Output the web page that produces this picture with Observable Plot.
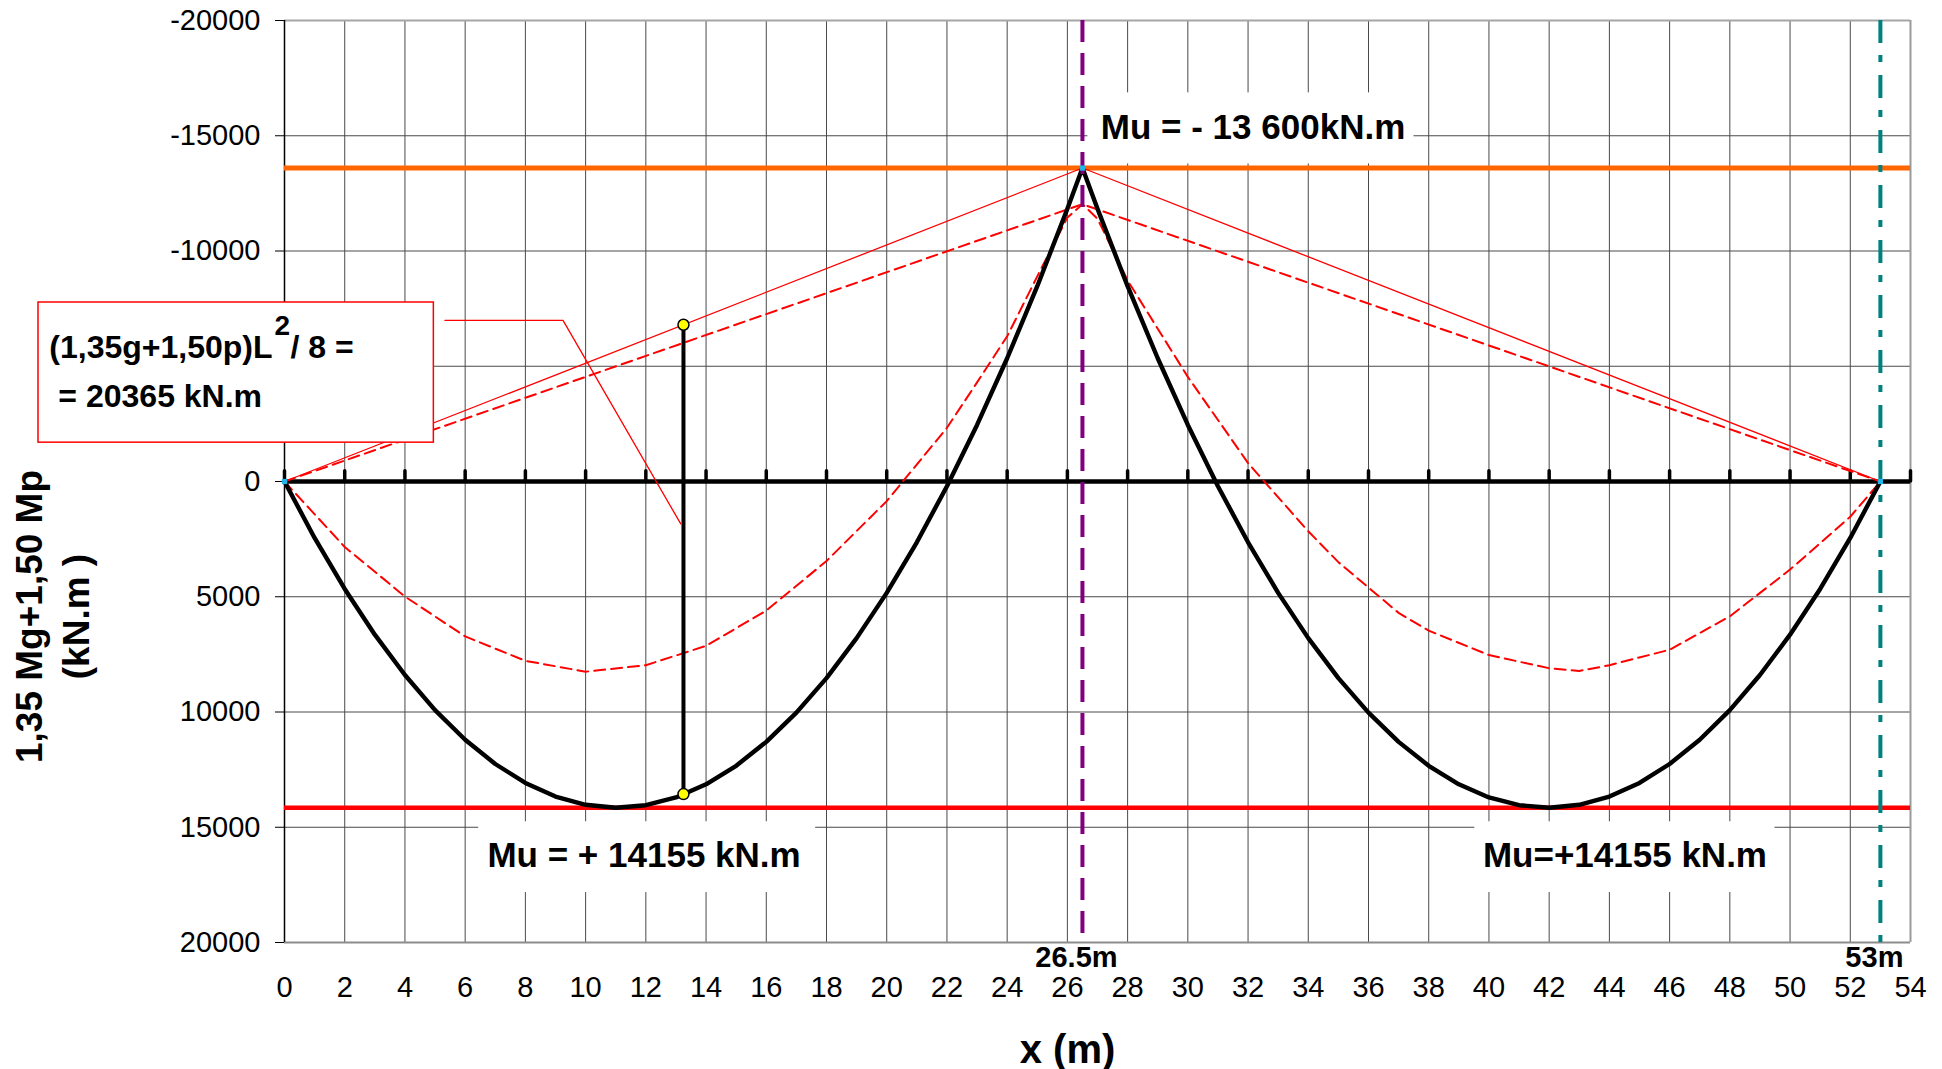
<!DOCTYPE html>
<html>
<head>
<meta charset="utf-8">
<script src="https://cdn.jsdelivr.net/npm/d3@7"></script>
<script src="https://cdn.jsdelivr.net/npm/@observablehq/plot@0.6"></script>
<style>
html, body { margin: 0; padding: 0; background: #fff; overflow: hidden; }
#chart svg { display: block; }
</style>
</head>
<body>
<div id="chart"></div>
<script>
// ---------- data ----------
const xTicks = [0,2,4,6,8,10,12,14,16,18,20,22,24,26,28,30,32,34,36,38,40,42,44,46,48,50,52,54];
const yTicks = [-20000,-15000,-10000,-5000,0,5000,10000,15000,20000];
// the -5000 label is hidden behind the formula box in the reference
const yLabelTicks = [-20000,-15000,-10000,0,5000,10000,15000,20000];

// design moment 1,35 Mg + 1,50 Mp (black curve), kN.m (sagging positive, drawn downward)
const envX = [0,1,2,3,4,5,6,7,8,9,10,11,12,13,14,15,16,17,18,19,20,21,22,23,24,25,26,26.5,
              27,28,29,30,31,32,33,34,35,36,37,38,39,40,41,42,43,44,45,46,47,48,49,50,51,52,53];
const envM = [0,2448,4663,6646,8397,9916,11202,12256,13078,13668,14026,14155,14045,13706,13135,12332,11296,10028,8528,6796,4832,2636,207,-2454,-5347,-8473,-11830,-13600,
              -11830,-8473,-5347,-2454,207,2636,4832,6796,8528,10028,11296,12332,13135,13706,14045,14155,14026,13668,13078,12256,11202,9916,8397,6646,4663,2448,0];

// second (dashed red) moment curve
const altX = [0,2,4,6,8,10,12,14,16,18,20,22,23,24,25,26,26.5,
              27,28,29,30,31,32,34,35,36,37,38,40,42,43,44,46,48,50,52,53];
const altM = [0,2840,4990,6720,7780,8250,7970,7130,5600,3450,850,-2330,-4300,-6300,-8900,-11450,-12030,
              -11400,-8720,-6630,-4540,-2670,-800,2160,3500,4600,5700,6470,7530,8100,8220,7970,7300,5850,3820,1530,0];

// closing lines from supports to the middle support moment
const closeX = [0, 26.5, 53];
const closeSolidM = [0, -13600, 0];
const closeDashM = [0, -12030, 0];

const supportMoment = -13600;   // Mu over middle support
const spanMoment = 14155;       // Mu in span
const supportsX = [0, 26.5, 53];
const supportsM = [0, -13600, 0];

// wL²/8 ordinate at mid-span
const midX = 13.25;
const midM = [-6800, 13560];

// annotation labels
const muText = ["Mu = - 13 600kN.m", "Mu = + 14155 kN.m", "Mu=+14155 kN.m"];
const muX = [27.11, 6.74, 39.8];
const muY = [-15363, 16254, 16254];
const muBoxX1 = [26.68, 6.45, 39.53];
const muBoxX2 = [37.51, 17.64, 49.5];
const muBoxY1 = [-16860, 14762, 14762];
const muBoxY2 = [-13777, 17833, 17833];

const spanText = ["26.5m", "53m"];
const spanTextX = [26.5, 53];

// formula box (x in m, y in kN.m)
const boxX = [-8.17, 4.96];
const boxY = [-7766, -1685];
const formulaParts = ["(1,35g+1,50p)L", "2", "/ 8 =", "= 20365 kN.m"];
const formulaX = [-7.81, -0.33, 0.2, -7.51];
const formulaY = [-5787, -6750, -5787, -3664];
const formulaSize = [32, 28, 32, 32];
const leaderX = [5.33, 9.25, 13.16];
const leaderM = [-6988, -6988, 1841];

// ---------- build ----------
const font = "'Liberation Sans', Arial, Helvetica, sans-serif";
const env = envX.map((x, i) => ({x, y: envM[i]}));
const alt = altX.map((x, i) => ({x, y: altM[i]}));
const closeSolid = closeX.map((x, i) => ({x, y: closeSolidM[i]}));
const closeDash = closeX.map((x, i) => ({x, y: closeDashM[i]}));
const supports = supportsX.map((x, i) => ({x, y: supportsM[i]}));
const mids = midM.map(y => ({x: midX, y}));
const mu = muText.map((t, i) => ({t, x: muX[i], y: muY[i], x1: muBoxX1[i], x2: muBoxX2[i], y1: muBoxY1[i], y2: muBoxY2[i]}));
const spans = spanText.map((t, i) => ({t, x: spanTextX[i]}));
const formula = formulaParts.map((t, i) => ({t, x: formulaX[i], y: formulaY[i], s: formulaSize[i]}));
const leader = leaderX.map((x, i) => ({x, y: leaderM[i]}));

const chart = Plot.plot({
  width: 1942,
  height: 1069,
  marginLeft: 284,
  marginRight: 32,
  marginTop: 20,
  marginBottom: 127,
  style: {fontFamily: font, fontSize: "29px", background: "#fff", color: "#000", overflow: "visible"},
  x: {domain: [0, 54], axis: null},
  y: {domain: [-20000, 20000], reverse: true, axis: null},
  marks: [
    // grid
    Plot.ruleX(xTicks, {stroke: "#4a4a4a", strokeWidth: 1}),
    Plot.ruleY(yTicks.slice(1, -1), {stroke: "#4a4a4a", strokeWidth: 1}),
    // frame
    Plot.ruleY([-20000], {stroke: "#a6a6a6", strokeWidth: 2}),
    Plot.ruleY([20000], {stroke: "#8c8c8c", strokeWidth: 2}),
    Plot.ruleX([54], {stroke: "#9a9a9a", strokeWidth: 2}),
    Plot.ruleX([0], {stroke: "#000", strokeWidth: 1.5}),
    // axes
    Plot.axisY({ticks: yLabelTicks, tickFormat: d => String(d), tickSize: 9, tickPadding: 15, fontSize: 29, label: null}),
    Plot.axisX({ticks: xTicks, tickFormat: d => String(d), tickSize: 0, tickPadding: 34, fontSize: 29, label: null}),
    // white backgrounds of Mu labels
    Plot.rect(mu, {x1: "x1", x2: "x2", y1: "y1", y2: "y2", fill: "#fff"}),
    // zero axis with ticks
    Plot.ruleY([0], {x1: 0, x2: 54, stroke: "#000", strokeWidth: 4.5}),
    Plot.ruleX(xTicks, {y1: 0, y2: -450, stroke: "#000", strokeWidth: 3.5, strokeLinecap: "round"}),
    // Mu limits
    Plot.ruleY([supportMoment], {x1: 0, x2: 54, stroke: "#FF6600", strokeWidth: 5}),
    Plot.ruleY([spanMoment], {x1: 0, x2: 54, stroke: "#FF0000", strokeWidth: 4.5}),
    // closing lines
    Plot.line(closeSolid, {x: "x", y: "y", stroke: "#FF0000", strokeWidth: 1.3}),
    Plot.line(closeDash, {x: "x", y: "y", stroke: "#FF0000", strokeWidth: 2, strokeDasharray: "11,6"}),
    // curves
    Plot.line(alt, {x: "x", y: "y", stroke: "#FF0000", strokeWidth: 2, strokeDasharray: "11,6"}),
    Plot.line(env, {x: "x", y: "y", stroke: "#000", strokeWidth: 4.4, strokeLinejoin: "round"}),
    // support verticals
    Plot.ruleX([26.5], {stroke: "#800080", strokeWidth: 4, strokeDasharray: "22,11"}),
    Plot.ruleX([53], {stroke: "#008080", strokeWidth: 4, strokeDasharray: "23,12,7,13"}),
    // wL2/8 ordinate
    Plot.ruleX([midX], {y1: midM[0], y2: midM[1], stroke: "#000", strokeWidth: 4}),
    Plot.dot(mids, {x: "x", y: "y", r: 5.5, fill: "#FFFF00", stroke: "#000", strokeWidth: 1.5}),
    Plot.dot(supports, {x: "x", y: "y", symbol: "square", r: 3, fill: "#22B5E8"}),
    // formula box + leader
    Plot.rect([{x1: boxX[0], x2: boxX[1], y1: boxY[0], y2: boxY[1]}], {x1: "x1", x2: "x2", y1: "y1", y2: "y2", fill: "#fff", stroke: "#FF0000", strokeWidth: 1.5}),
    Plot.line(leader, {x: "x", y: "y", stroke: "#FF0000", strokeWidth: 1.3}),
    Plot.text(formula, {x: "x", y: "y", text: "t", fontSize: d => d.s, fontWeight: "bold", textAnchor: "start", lineAnchor: "middle", fill: "#000"}),
    // Mu labels
    Plot.text(mu, {x: "x", y: "y", text: "t", fontSize: 35, fontWeight: "bold", textAnchor: "start", lineAnchor: "middle", fill: "#000"}),
    // span labels below axis
    Plot.text(spans, {x: "x", y: 20000, text: "t", dy: 15, dx: -6, fontSize: 29, fontWeight: "bold", textAnchor: "middle", lineAnchor: "middle", fill: "#000"}),
    // axis titles
    Plot.text(["x (m)"], {frameAnchor: "bottom", text: d => d, dx: -30, dy: 108, fontSize: 40, fontWeight: "bold", textAnchor: "middle", lineAnchor: "middle", fill: "#000"}),
    Plot.text(["1,35 Mg+1,50 Mp"], {frameAnchor: "left", text: d => d, rotate: -90, dx: -254, dy: 135, fontSize: 37, fontWeight: "bold", textAnchor: "middle", lineAnchor: "middle", fill: "#000"}),
    Plot.text(["(kN.m )"], {frameAnchor: "left", text: d => d, rotate: -90, dx: -207, dy: 135, fontSize: 37, fontWeight: "bold", textAnchor: "middle", lineAnchor: "middle", fill: "#000"})
  ]
});
document.getElementById("chart").appendChild(chart);
</script>
</body>
</html>
